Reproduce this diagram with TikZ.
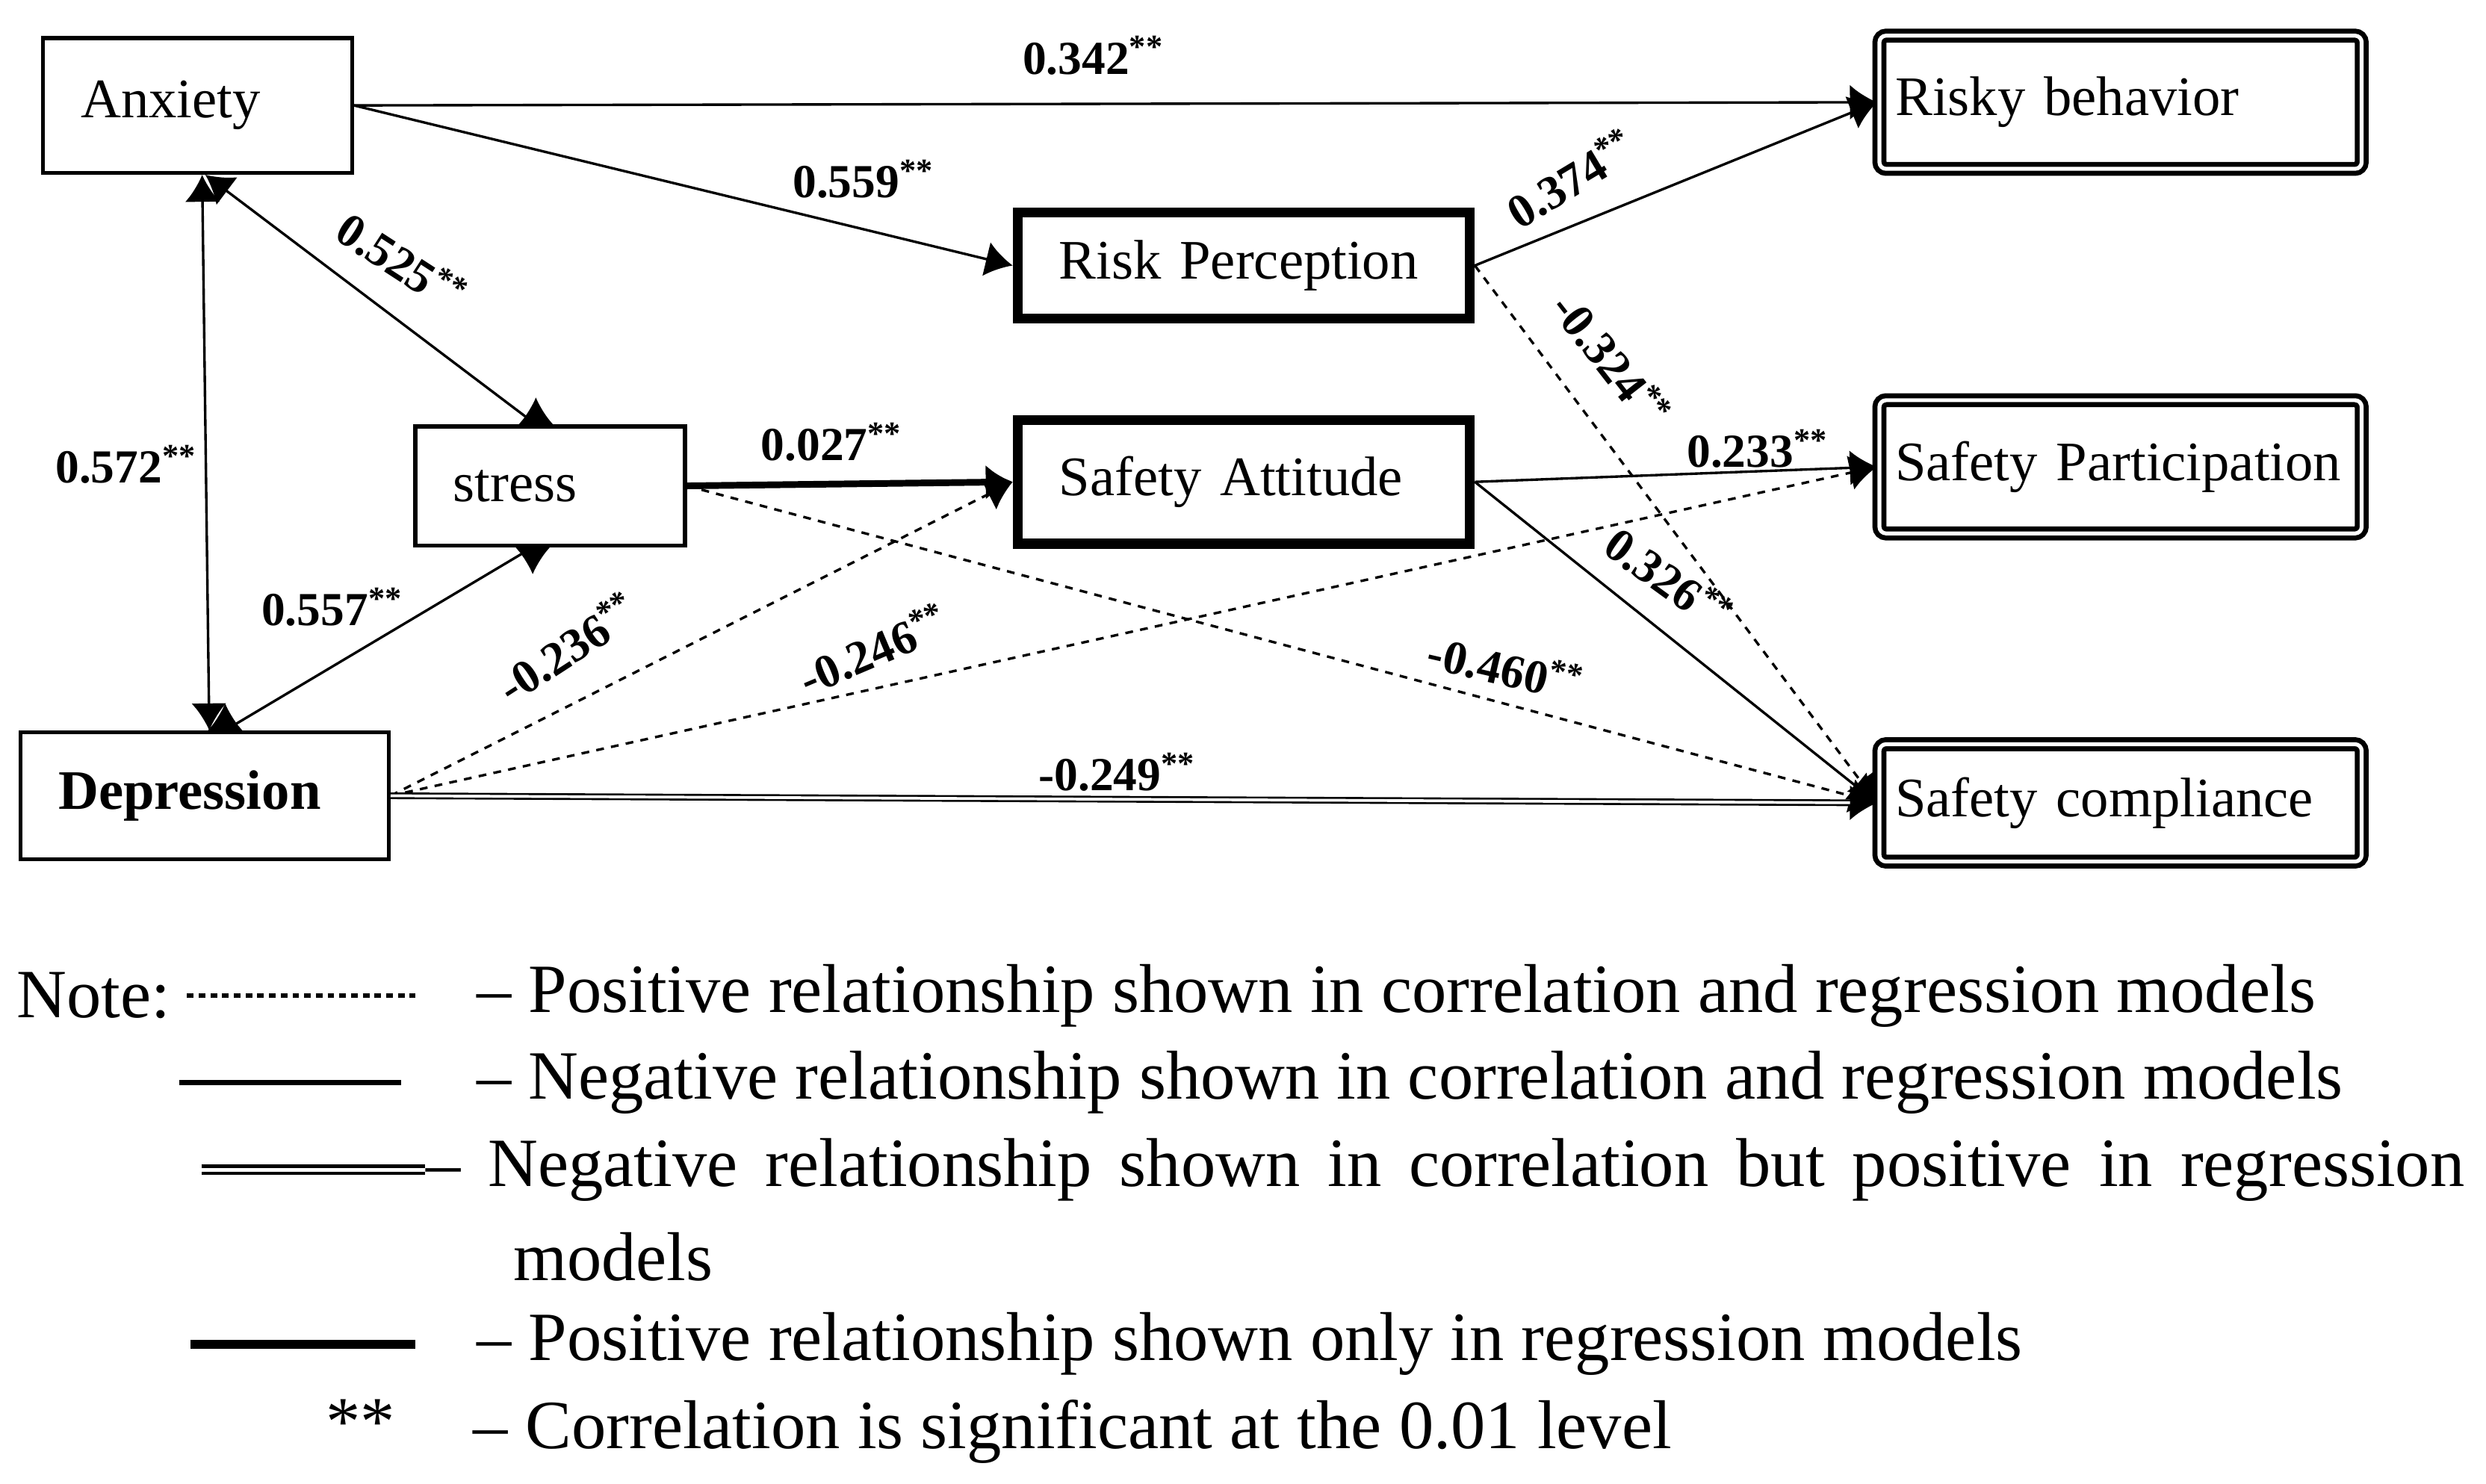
\documentclass[tikz,border=0pt]{standalone}
\usepackage{fontspec}
\setmainfont{Liberation Serif}
\usetikzlibrary{arrows.meta}

\providecommand{\RLbox}{\fontsize{10}{12}\selectfont}
\providecommand{\RLlab}{\fontsize{8.5}{10}\selectfont\bfseries}
\providecommand{\RLnote}{\fontsize{12.4}{15}\selectfont}
\providecommand{\RLthin}{0.45pt}

\tikzset{
  var/.style={rectangle, draw=black, align=left, font=\RLbox, inner ysep=0pt},
  plainbox/.style={var, line width=0.7pt, inner xsep=0.24cm},
  regbox/.style={var, line width=1.8pt, inner xsep=0.26cm},
  outbox/.style={var, double, line width=0.9pt, double distance=0.7pt,
                 rounded corners=1.2pt, inner xsep=0.10cm, text width=2.84cm},
  lab/.style={font=\RLlab, inner sep=0pt},
  note/.style={font=\RLnote, inner sep=0pt, anchor=west},
  rel/.style={draw=black, line width=\RLthin, ->},
  neg/.style={rel, dash pattern=on 1.4pt off 1.3pt},
  reg/.style={rel, line width=1.2pt},
  mix/.style={rel, double, line width=0.35pt, double distance=0.5pt},
  keydot/.style={line width=0.8pt, dash pattern=on 1.2pt off 0.9pt},
  keyneg/.style={line width=1pt},
  keymix/.style={double, line width=0.65pt, double distance=0.6pt},
  keyreg/.style={line width=1.6pt}
}

\begin{document}
\begin{tikzpicture}[x=0.01cm, y=-0.01cm, >={Latex[length=0.17cm,width=0.22cm]}]

\useasboundingbox (0,0) rectangle (1568,936);

% Variables
\node (anx) [plainbox, text width=1.47cm, minimum height=0.85cm] at (124.5,66.5) {Anxiety};
\node (str) [plainbox, text width=1.22cm, minimum height=0.75cm] at (347,306.5) {stress};
\node (dep) [plainbox, text width=1.84cm, minimum height=0.80cm,
             font=\RLbox\bfseries] at (129,502) {Depression};
\node (rp) [regbox, text width=2.33cm, minimum height=0.67cm] at (784.5,167.5) {Risk Perception};
\node (sa) [regbox, text width=2.33cm, minimum height=0.78cm] at (784.5,304) {Safety Attitude};
\node (rb) [outbox, minimum height=0.84cm] at (1337.5,64.5) {Risky behavior};
\node (sp) [outbox, minimum height=0.84cm] at (1337.5,294.5) {Safety Participation};
\node (sc) [outbox, minimum height=0.74cm] at (1337.5,506.5) {Safety compliance};

% Paths
\foreach \a/\b in {anx/rb, anx/rp, rp/rb, sa/sp, sa/sc}
  \draw[rel] (\a.east) -- (\b.west);

\foreach \a/\b in {str/sc, dep/sa, dep/sp, rp/sc}
  \draw[neg] (\a.east) -- (\b.west);

\draw[reg] (str.east) -- (sa.west);
\draw[mix] (dep.east) -- (sc.west);

% Correlations
\draw[rel, <->] ([xshift=0.03cm]anx.south) -- ([xshift=0.03cm]dep.north);

\draw[rel, <->]
    ([xshift=0.05cm]anx.south) --
    ([xshift=-0.09cm]str.north) --
    ([xshift=-0.09cm,yshift=0.17cm]str.north);

\draw[rel, <->]
    ([xshift=-0.11cm,yshift=-0.17cm]str.south) --
    ([xshift=-0.11cm]str.south) --
    ([xshift=0.13cm]dep.north) --
    ([xshift=0.13cm,yshift=0.17cm]dep.north);

% Coefficients
\node[lab] (l342) at (690,35) {0.342\textsuperscript{**}};
\node[lab] (l559) at (545,113) {0.559\textsuperscript{**}};
\node[lab, rotate=-33] (l525) at (254,165) {0.525\textsuperscript{**}};
\node[lab] (l572) at (80,293) {0.572\textsuperscript{**}};
\node[lab] (l557) at (210,383) {0.557\textsuperscript{**}};
\node[lab] (l027) at (525,279) {0.027\textsuperscript{**}};
\node[lab, rotate=33] (l236) at (358,408) {-0.236\textsuperscript{**}};
\node[lab, rotate=23] (l246) at (551,409) {-0.246\textsuperscript{**}};
\node[lab] (l249) at (705,487) {-0.249\textsuperscript{**}};
\node[lab, rotate=-13] (l460) at (950,421) {-0.460\textsuperscript{**}};
\node[lab, rotate=31] (l374) at (991,112) {0.374\textsuperscript{**}};
\node[lab, rotate=-52] (l324) at (1017,227) {-0.324\textsuperscript{**}};
\node[lab, rotate=-36] (l326) at (1053,365) {0.326\textsuperscript{**}};
\node[lab] (l233) at (1109,283) {0.233\textsuperscript{**}};

% Note
\node[note] (note) at (10,628) {Note:};
\draw[keydot] (118,628) -- (262,628);
\node[note] (k1) at (300,628) {\textendash{} Positive relationship shown in correlation and regression models};

\draw[keyneg] (113,683) -- (253,683);
\node[note] (k2) at (300,683) {\textendash{} Negative relationship shown in correlation and regression models};

\draw[keymix] (127,738) -- (268,738);
\node[note] (k3) at (268,738)
    {\makebox[12.85cm][s]{\textendash{} Negative relationship shown in correlation but positive in regression}};
\node[note] (k3b) at (323,793) {models};

\draw[keyreg] (120,848) -- (262,848);
\node[note] (k4) at (300,848) {\textendash{} Positive relationship shown only in regression models};

\node[note] (kstar) at (205,897) {**};
\node[note] (k5) at (298,903) {\textendash{} Correlation is significant at the 0.01 level};

\end{tikzpicture}
\end{document}
